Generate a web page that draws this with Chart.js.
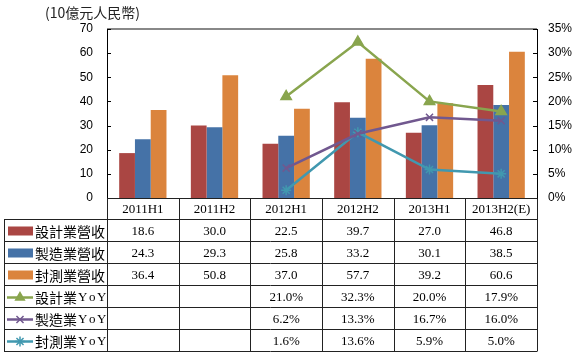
<!DOCTYPE html>
<html>
<head>
<meta charset="utf-8">
<script src="https://cdn.jsdelivr.net/npm/chart.js@4/dist/chart.umd.min.js"></script>
<style>
  body { margin: 0; background: #fff; }
  canvas { display: block; }
</style>
</head>
<body>
<canvas id="c" width="578" height="358"></canvas>
<script>
// Half-year periods
const periods = ['2011H1', '2011H2', '2012H1', '2012H2', '2013H1', '2013H2(E)'];

// Revenue, 10億元人民幣
const designRev = [18.6, 30.0, 22.5, 39.7, 27.0, 46.8];
const mfgRev = [24.3, 29.3, 25.8, 33.2, 30.1, 38.5];
const testRev = [36.4, 50.8, 37.0, 57.7, 39.2, 60.6];

// YoY growth, %
const designYoY = [null, null, 21.0, 32.3, 20.0, 17.9];
const mfgYoY = [null, null, 6.2, 13.3, 16.7, 16.0];
const testYoY = [null, null, 1.6, 13.6, 5.9, 5.0];

const leftTicks = [0, 10, 20, 30, 40, 50, 60, 70];
const rightTicks = [0, 5, 10, 15, 20, 25, 30, 35];

const RED = '#AA4643', BLUE = '#4572A7', ORANGE = '#DB843D';
const GREEN = '#89A54E', PURPLE = '#71588F', TEAL = '#4198AF';

const CJK = '"Noto Sans CJK TC", sans-serif';
const NUM = '"Liberation Serif", serif';

// table rows: label, values, key type, colour, marker
const rows = [
  { label: '設計業營收', vals: designRev, kind: 'bar', color: RED },
  { label: '製造業營收', vals: mfgRev, kind: 'bar', color: BLUE },
  { label: '封測業營收', vals: testRev, kind: 'bar', color: ORANGE },
  { label: '設計業', vals: designYoY, kind: 'line', color: GREEN, marker: 'triangle', pct: true },
  { label: '製造業', vals: mfgYoY, kind: 'line', color: PURPLE, marker: 'crossRot', pct: true },
  { label: '封測業', vals: testYoY, kind: 'line', color: TEAL, marker: 'star', pct: true }
];

// Axis ticks, frame and the data table under the plot
const tablePlugin = {
  id: 'tablePlugin',
  afterDraw(chart) {
    const ctx = chart.ctx;
    const area = chart.chartArea;
    const x = chart.scales.x, y = chart.scales.y, y1 = chart.scales.y1;
    ctx.save();

    // top frame line
    ctx.strokeStyle = '#888';
    ctx.lineWidth = 2;
    ctx.beginPath();
    ctx.moveTo(area.left, area.top);
    ctx.lineTo(area.right, area.top);
    ctx.stroke();

    // inward tick marks
    ctx.strokeStyle = '#000';
    ctx.lineWidth = 1;
    leftTicks.forEach(v => {
      const py = Math.round(y.getPixelForValue(v)) + 0.5;
      ctx.beginPath(); ctx.moveTo(area.left, py); ctx.lineTo(area.left + 4, py); ctx.stroke();
    });
    rightTicks.forEach(v => {
      const py = Math.round(y1.getPixelForValue(v)) + 0.5;
      ctx.beginPath(); ctx.moveTo(area.right - 4, py); ctx.lineTo(area.right, py); ctx.stroke();
    });

    // table grid
    const step = (area.right - area.left) / periods.length;
    const rowY = [198.5, 219.5, 241.5, 263.5, 285.5, 307.5, 329.5, 351.5];
    ctx.strokeStyle = '#222';
    ctx.lineWidth = 1;
    ctx.beginPath();
    ctx.moveTo(area.left, rowY[0]); ctx.lineTo(area.right, rowY[0]);
    for (let r = 1; r < rowY.length; r++) {
      ctx.moveTo(4, rowY[r]); ctx.lineTo(area.right, rowY[r]);
    }
    for (let k = 0; k <= periods.length; k++) {
      const px = Math.round(area.left + k * step) + 0.5;
      ctx.moveTo(px, rowY[0]); ctx.lineTo(px, rowY[rowY.length - 1]);
    }
    ctx.moveTo(4.5, rowY[1]); ctx.lineTo(4.5, rowY[rowY.length - 1]);
    ctx.stroke();

    // header row
    ctx.fillStyle = '#000';
    ctx.textAlign = 'center';
    ctx.textBaseline = 'middle';
    ctx.font = '13px ' + NUM;
    periods.forEach((p, i) => {
      ctx.fillText(p, x.getPixelForValue(i), (rowY[0] + rowY[1]) / 2 + 1);
    });

    // data rows
    rows.forEach((row, r) => {
      const cy = (rowY[r + 1] + rowY[r + 2]) / 2 + 1;
      ctx.textAlign = 'center';
      ctx.font = '13px ' + NUM;
      ctx.fillStyle = '#000';
      row.vals.forEach((v, i) => {
        if (v === null) return;
        ctx.fillText(v.toFixed(1) + (row.pct ? '%' : ''), x.getPixelForValue(i), cy);
      });

      // legend key
      if (row.kind === 'bar') {
        ctx.fillStyle = row.color;
        ctx.fillRect(8, cy - 5, 25, 9);
      } else {
        ctx.strokeStyle = row.color;
        ctx.lineWidth = 2.5;
        ctx.beginPath(); ctx.moveTo(7, cy); ctx.lineTo(33, cy); ctx.stroke();
        ctx.fillStyle = row.color;
        ctx.lineWidth = 1.5;
        Chart.helpers.drawPoint(ctx, { pointStyle: row.marker, radius: 5, rotation: 0, borderWidth: 1.5 }, 20, cy);
      }

      // row label
      ctx.fillStyle = '#000';
      ctx.textAlign = 'left';
      ctx.font = '14px ' + CJK;
      ctx.fillText(row.label, 35, cy);
      if (row.pct) {
        // spaced-out "YoY" as in the original
        let px = 35 + ctx.measureText(row.label).width + 1;
        ctx.font = '13px ' + NUM;
        ['Y', 'o', 'Y'].forEach(ch => {
          ctx.fillText(ch, px, cy);
          px += ctx.measureText(ch).width + 1.5;
        });
      }
    });

    // unit title
    ctx.fillStyle = '#222';
    ctx.textAlign = 'left';
    ctx.font = '14px ' + CJK;
    ctx.fillText('(10億元人民幣)', 45, 13);

    ctx.restore();
  }
};

function barSet(label, data, color) {
  return { type: 'bar', label, data, backgroundColor: color, yAxisID: 'y', order: 2,
           categoryPercentage: 0.66, barPercentage: 1.0 };
}
function lineSet(label, data, color, marker, radius) {
  return { type: 'line', label, data, borderColor: color, backgroundColor: color, yAxisID: 'y1', order: 1,
           borderWidth: 2.5, pointStyle: marker, pointRadius: radius, pointBorderWidth: 1.5,
           pointBackgroundColor: color, pointBorderColor: color, tension: 0 };
}

new Chart(document.getElementById('c').getContext('2d'), {
  data: {
    labels: periods,
    datasets: [
      barSet('設計業營收', designRev, RED),
      barSet('製造業營收', mfgRev, BLUE),
      barSet('封測業營收', testRev, ORANGE),
      lineSet('設計業YoY', designYoY, GREEN, 'triangle', 6),
      lineSet('製造業YoY', mfgYoY, PURPLE, 'crossRot', 5),
      lineSet('封測業YoY', testYoY, TEAL, 'star', 5)
    ]
  },
  options: {
    responsive: false,
    devicePixelRatio: 1,
    animation: false,
    layout: { padding: { left: 0, right: 0, top: 29, bottom: 160 } },
    plugins: { legend: { display: false }, tooltip: { enabled: false } },
    scales: {
      x: { display: false, offset: true },
      y: {
        position: 'left', min: 0, max: 70,
        ticks: { stepSize: 10, padding: 14, color: '#000', font: { family: 'Liberation Sans', size: 12 } },
        grid: { display: false, drawTicks: false },
        border: { display: true, color: '#000', width: 1 },
        afterFit(s) { s.width = 107; }
      },
      y1: {
        position: 'right', min: 0, max: 35,
        ticks: { stepSize: 5, padding: 11, color: '#000', font: { family: 'Liberation Sans', size: 12 },
                 callback: v => v + '%' },
        grid: { display: false, drawTicks: false },
        border: { display: true, color: '#000', width: 1 },
        afterFit(s) { s.width = 41; }
      }
    }
  },
  plugins: [tablePlugin]
});
</script>
</body>
</html>
